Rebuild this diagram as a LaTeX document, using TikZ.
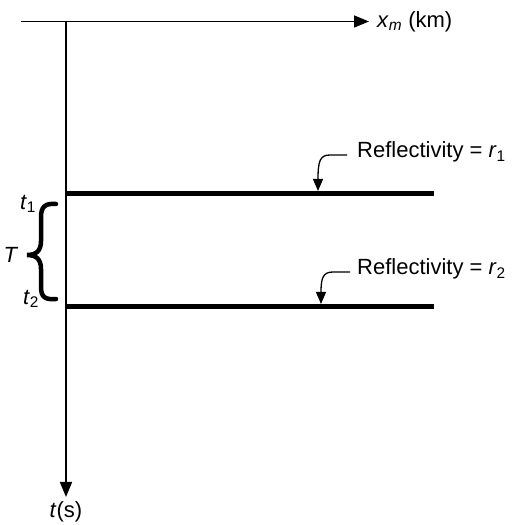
\documentclass[tikz,border=0pt]{standalone}
\usepackage{fontspec}
\setmainfont{Liberation Sans}
\usetikzlibrary{arrows.meta}
\begin{document}
\begin{tikzpicture}[x=1pt,y=1pt,
  lbl/.style={font=\fontsize{22pt}{26pt}\selectfont, inner sep=0pt},
  axis/.style={line width=1.5pt,-{Triangle[length=15pt,width=12pt]}},
  reflector/.style={line width=5pt},
  pointer/.style={line width=1.3pt,-{Triangle[length=12pt,width=10pt]}},
  bracestyle/.style={line width=4.5pt,line cap=round}]
\useasboundingbox (0,0) rectangle (516,525);
% axes
\coordinate (hstart) at (21,503.5);
\coordinate (origin) at (66,503.5);
\coordinate (hend) at (369,503.5);
\coordinate (vend) at (66,28);
\draw[axis] (hstart) -- (hend);
\draw[axis] (origin) -- (vend);
\node[lbl,anchor=west] (xlabel) at (377,503) {\textit{x}\textsubscript{\textit{m}} (km)};
\node[lbl,anchor=north] (tlabel) at (66,24) {\textit{t}(s)};
% reflectors
\coordinate (r1a) at (66,331);
\coordinate (r1b) at (434,331);
\coordinate (r2a) at (66,218);
\coordinate (r2b) at (434,218);
\draw[reflector] (r1a) -- (r1b);
\draw[reflector] (r2a) -- (r2b);
% reflectivity labels
\node[lbl,anchor=west] (ref1) at (357,373) {Reflectivity = \textit{r}\textsubscript{1}};
\node[lbl,anchor=west] (ref2) at (357,256) {Reflectivity = \textit{r}\textsubscript{2}};
\coordinate (p1s) at (347,370);
\coordinate (p1e) at (318,334);
\coordinate (p2s) at (350,253);
\coordinate (p2e) at (321,221);
\draw[pointer] (p1s) -- (330,370) .. controls (320,370) and (318,364) .. (p1e);
\draw[pointer] (p2s) -- (333,253) .. controls (323,253) and (321,247) .. (p2e);
% brace and times
\coordinate (bt) at (56,321);
\coordinate (btip) at (27,270);
\coordinate (bb) at (56,226);
\draw[bracestyle] (bt) .. controls (45,322) and (41,318) .. (41,308) -- (41,284)
  .. controls (41,274) and (36,270) .. (btip)
  .. controls (36,270) and (41,266) .. (41,256) -- (41,238)
  .. controls (41,228) and (45,225) .. (bb);
\node[lbl] (Tlabel) at (11,270) {\textit{T}};
\node[lbl] (t1label) at (28,321) {\textit{t}\textsubscript{1}};
\node[lbl] (t2label) at (31,226) {\textit{t}\textsubscript{2}};
\end{tikzpicture}
\end{document}
